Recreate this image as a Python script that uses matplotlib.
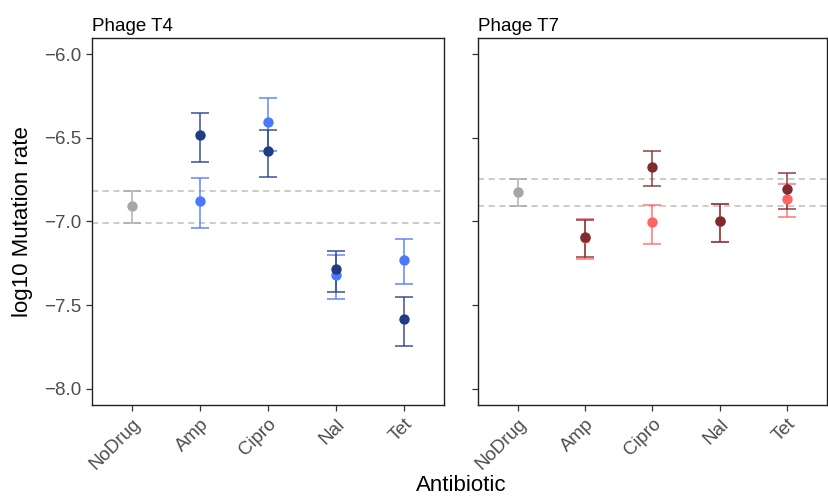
import matplotlib.pyplot as plt

plt.rcParams['font.family'] = ['Liberation Sans', 'DejaVu Sans']

antibiotics = ["NoDrug", "Amp", "Cipro", "Nal", "Tet"]
drugs = ["Amp", "Cipro", "Nal", "Tet"]

# Phage T4
t4_nodrug = [-6.908, -6.820, -7.009]  # point, upper, lower
t4_light = [-6.876, -6.404, -7.320, -7.229]
t4_light_hi = [-6.743, -6.261, -7.199, -7.103]
t4_light_lo = [-7.038, -6.578, -7.464, -7.376]
t4_dark = [-6.484, -6.581, -7.286, -7.585]
t4_dark_hi = [-6.354, -6.456, -7.175, -7.451]
t4_dark_lo = [-6.643, -6.733, -7.422, -7.745]

# Phage T7
t7_nodrug = [-6.823, -6.745, -6.906]
t7_light = [-7.100, -7.005, -7.000, -6.864]
t7_light_hi = [-6.986, -6.902, -6.894, -6.777]
t7_light_lo = [-7.225, -7.133, -7.123, -6.974]
t7_dark = [-7.091, -6.673, -6.998, -6.808]
t7_dark_hi = [-6.992, -6.579, -6.894, -6.713]
t7_dark_lo = [-7.210, -6.790, -7.123, -6.926]

fig = plt.figure(figsize=(8.29, 4.97), dpi=100)
ax1 = fig.add_axes([0.1106, 0.185, 0.4254, 0.739])
ax2 = fig.add_axes([0.576, 0.185, 0.422, 0.739])


def draw_series(ax, xs, vals, hi, lo, color):
    yerr = [[v - l for v, l in zip(vals, lo)], [h - v for v, h in zip(vals, hi)]]
    ax.errorbar(xs, vals, yerr=yerr, fmt='none', ecolor=color, elinewidth=1.3,
                capsize=6.2, capthick=1.3, alpha=0.75, zorder=3)
    ax.scatter(xs, vals, s=56, color=color, zorder=4, linewidths=0)


def panel(ax, title, nodrug, light, lhi, llo, dark, dhi, dlo, c_light, c_dark):
    ax.axhline(nodrug[1], color='#BDBDBD', ls=(0, (4, 3)), lw=1.1, zorder=1)
    ax.axhline(nodrug[2], color='#BDBDBD', ls=(0, (4, 3)), lw=1.1, zorder=1)
    draw_series(ax, [0], [nodrug[0]], [nodrug[1]], [nodrug[2]], '#A6A6A6')
    xs = [antibiotics.index(d) for d in drugs]
    draw_series(ax, xs, light, lhi, llo, c_light)
    draw_series(ax, xs, dark, dhi, dlo, c_dark)
    ax.set_xlim(-0.6, 4.6)
    ax.set_ylim(-8.097, -5.903)
    ax.set_yticks([-6.0, -6.5, -7.0, -7.5, -8.0])
    ax.set_xticks(range(len(antibiotics)))
    ax.set_xticklabels(antibiotics, rotation=45, ha='right', va='top',
                       rotation_mode='anchor', fontsize=13.5, color='#4D4D4D')
    ax.tick_params(axis='both', length=4, width=0.9, color='#333333',
                   labelsize=13.5, labelcolor='#4D4D4D')
    for s in ax.spines.values():
        s.set_color('#222222')
        s.set_linewidth(1.0)
    ax.set_title(title, loc='left', fontsize=13.5, pad=5)


panel(ax1, "Phage T4", t4_nodrug, t4_light, t4_light_hi, t4_light_lo,
      t4_dark, t4_dark_hi, t4_dark_lo, '#4A78FF', '#213B85')
panel(ax2, "Phage T7", t7_nodrug, t7_light, t7_light_hi, t7_light_lo,
      t7_dark, t7_dark_hi, t7_dark_lo, '#FF6464', '#7E2A2E')

ax1.set_yticklabels(["\u22126.0", "\u22126.5", "\u22127.0", "\u22127.5", "\u22128.0"])
ax2.set_yticklabels([])
ax1.set_ylabel("log10 Mutation rate", fontsize=16, labelpad=8)
fig.text(0.557, 0.024, "Antibiotic", ha='center', va='center', fontsize=16)

fig.savefig("out.png", dpi=100)
